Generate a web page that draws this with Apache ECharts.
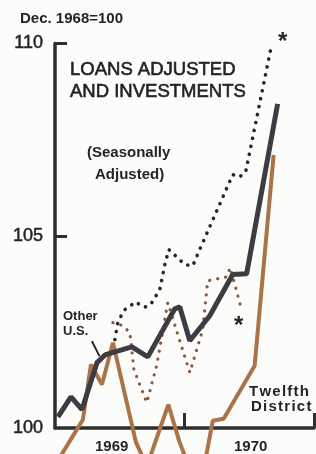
<!DOCTYPE html>
<html>
<head>
<meta charset="utf-8">
<script src="https://cdn.jsdelivr.net/npm/echarts@6.0.0/dist/echarts.min.js"></script>
<style>
  html, body { margin: 0; padding: 0; background: #fcfcfa; }
  #chart { width: 316px; height: 454px; }
</style>
</head>
<body>
<div id="chart"></div>
<script>
// months counted from start of 1969 (0 = Jan 1 1969, 12 = Jan 1 1970)
const otherUsMonths = [0.28, 1.48, 2.5, 3.89, 4.63, 5.55, 7.12, 8.6, 11.1, 11.56, 12.49, 14.34, 16.47, 17.76, 20.63];
const otherUsValues = [100.29, 100.81, 100.48, 101.7, 101.9, 101.98, 102.11, 101.85, 103.1, 103.15, 102.27, 102.92, 103.99, 104.01, 108.43];

const twelfthMonths = [0.5, 2.59, 3.33, 4.35, 5.37, 7.49, 8.51, 10.5, 11.53, 12.53, 13.51, 14.62, 15.63, 18.5, 20.26];
const twelfthValues = [99.26, 100.22, 101.65, 101.13, 102.22, 99.64, 99.0, 100.61, 99.64, 98.91, 98.53, 100.19, 100.24, 101.62, 107.1];

// dotted (*) versions
const otherUsAltMonths = [5.55, 5.83, 6.48, 7.49, 8.14, 8.51, 8.97, 9.71, 10.18, 10.55, 12.03, 12.77, 13.41, 16.47, 17.11, 17.67, 20.07];
const otherUsAltValues = [102.3, 102.77, 103.08, 103.28, 103.15, 103.15, 103.26, 103.6, 104.25, 104.64, 104.25, 104.22, 104.64, 106.59, 106.53, 106.66, 109.96];

const twelfthAltMonths = [5.37, 6.29, 6.94, 7.31, 8.51, 9.44, 10.45, 12.49, 13.69, 14.15, 15.91, 16.24, 17.3];
const twelfthAltValues = [102.74, 102.66, 102.48, 101.52, 100.66, 101.65, 103.26, 101.44, 102.56, 103.83, 103.93, 104.17, 103.07];

const yearLabels = ["1969", "1970"];
const yearLabelPos = [5.25, 18.13];
const yearTicks = [12, 24];
const yTicks = [105, 110];

const zip = (xs, ys) => xs.map((x, i) => [x, ys[i]]);
const spaced = s => s.split("").join("\u200A");

const ink = "#242424";
const dark = "#3c3c42";
const brown = "#a9744a";
const brownDot = "#8c5a3a";
const font = "Liberation Sans";

const chart = echarts.init(document.getElementById("chart"));

function txt(text, x, y, size, bold, extra) {
  return {
    type: "text",
    x: x,
    y: y,
    style: Object.assign({
      text: text,
      fill: ink,
      font: (bold ? "bold " : "") + size + "px '" + font + "'",
      verticalAlign: "middle",
      align: "left"
    }, extra || {})
  };
}

const option = {
  backgroundColor: "#fcfcfa",
  animation: false,
  grid: { left: 55, right: 2, top: 43.5, bottom: 25.7 },
  xAxis: {
    type: "value",
    min: 0,
    max: 24,
    splitLine: { show: false },
    axisLine: { show: true, lineStyle: { color: "#2e2e2e", width: 3.5 } },
    axisTick: {
      show: true,
      inside: true,
      length: 15,
      customValues: yearTicks,
      lineStyle: { color: "#2e2e2e", width: 3 }
    },
    axisLabel: {
      customValues: yearLabelPos,
      formatter: v => (v < 12 ? yearLabels[0] : yearLabels[1]),
      fontFamily: font,
      fontWeight: "bold",
      fontSize: 15,
      color: ink,
      margin: 11
    }
  },
  yAxis: {
    type: "value",
    min: 100,
    max: 110,
    interval: 5,
    splitLine: { show: false },
    axisLine: { show: true, lineStyle: { color: "#2e2e2e", width: 3.5 } },
    axisTick: {
      show: true,
      inside: true,
      length: 12,
      customValues: yTicks,
      lineStyle: { color: "#2e2e2e", width: 3 }
    },
    axisLabel: {
      fontFamily: font,
      fontSize: 18,
      color: ink,
      margin: 12,
      textBorderColor: ink,
      textBorderWidth: 0.5
    }
  },
  series: [
    {
      name: "Other U.S. *",
      type: "line",
      data: zip(otherUsAltMonths, otherUsAltValues),
      symbol: "none",
      clip: false,
      lineStyle: { color: "#262626", width: 3.6, type: [0.1, 8], cap: "round" }
    },
    {
      name: "Twelfth District *",
      type: "line",
      data: zip(twelfthAltMonths, twelfthAltValues),
      symbol: "none",
      clip: false,
      lineStyle: { color: brownDot, width: 3.2, type: [0.1, 8], cap: "round" }
    },
    {
      name: "Twelfth District",
      type: "line",
      data: zip(twelfthMonths, twelfthValues),
      symbol: "none",
      clip: false,
      lineStyle: { color: brown, width: 4 }
    },
    {
      name: "Other U.S.",
      type: "line",
      data: zip(otherUsMonths, otherUsValues),
      symbol: "none",
      clip: false,
      lineStyle: { color: dark, width: 5 },
      markLine: {
        silent: true,
        symbol: "none",
        label: { show: false },
        lineStyle: { color: ink, width: 2, type: "solid" },
        data: [[{ coord: [3.42, 102.26] }, { coord: [4.12, 101.87] }]]
      }
    }
  ],
  graphic: [
    txt("Dec. 1968=100", 20, 18.5, 15, true),
    txt("LOANS ADJUSTED", 70, 70, 18.5, false, { stroke: ink, lineWidth: 0.6 }),
    txt("AND INVESTMENTS", 70, 92, 18.5, false, { stroke: ink, lineWidth: 0.6 }),
    txt("(Seasonally", 87, 152.5, 15, true),
    txt("Adjusted)", 95, 175, 15, true),
    txt("Other", 63, 316.5, 13, true),
    txt("U.S.", 63, 331.5, 13, true),
    txt(spaced("Twelfth"), 249, 391.5, 15, true),
    txt(spaced("District"), 251, 406.5, 15, true),
    txt("*", 278, 42, 24, true),
    txt("*", 234, 326, 24, true)
  ]
};

chart.setOption(option);
</script>
</body>
</html>
